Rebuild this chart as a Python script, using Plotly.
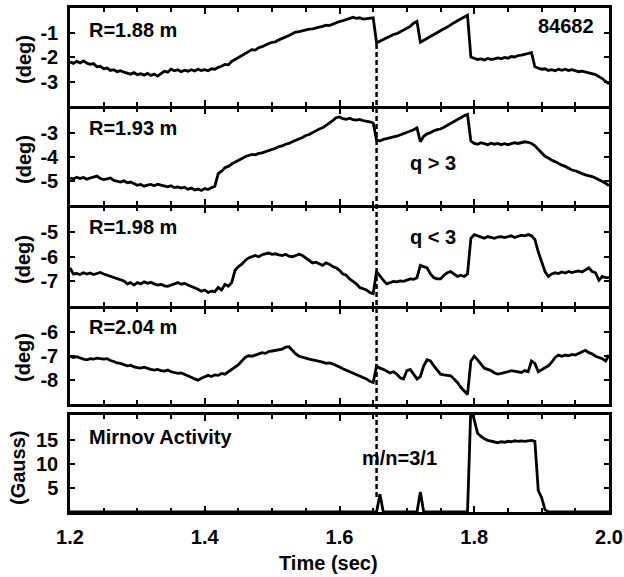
import numpy as np
import plotly.graph_objects as go

# ---------------- data ----------------
time_s = np.round(np.arange(1.200, 2.0001, 0.005), 3)

r188_deg = [
    -2.20, -2.26, -2.18, -2.24, -2.16, -2.25, -2.30, -2.27, -2.40, -2.38,
    -2.48, -2.45, -2.55, -2.52, -2.60, -2.56, -2.62, -2.66, -2.70, -2.64,
    -2.72, -2.68, -2.74, -2.67, -2.75, -2.70, -2.78, -2.68, -2.58, -2.62,
    -2.50, -2.56, -2.52, -2.60, -2.54, -2.58, -2.52, -2.57, -2.50, -2.55,
    -2.52, -2.56, -2.48, -2.50, -2.42, -2.38, -2.30, -2.32, -2.18, -2.10,
    -2.02, -1.96, -1.85, -1.80, -1.70, -1.72, -1.62, -1.58, -1.50, -1.45,
    -1.40, -1.38, -1.30, -1.25, -1.18, -1.12, -1.05, -0.98, -0.96, -0.92,
    -0.88, -0.86, -0.85, -0.80, -0.78, -0.75, -0.70, -0.72, -0.66, -0.62,
    -0.55, -0.52, -0.48, -0.44, -0.38, -0.42, -0.40, -0.45, -0.43, -0.41,
    -0.40, -1.42, -1.35, -1.28, -1.22, -1.15, -1.08, -1.05, -0.98, -0.92,
    -0.85, -0.75, -0.62, -0.55, -1.40, -1.32, -1.22, -1.15, -1.08, -1.00,
    -0.92, -0.85, -0.78, -0.68, -0.60, -0.52, -0.45, -0.38, -0.30, -2.00,
    -2.05, -2.10, -2.08, -2.12, -2.06, -2.10, -2.08, -2.04, -2.07, -2.02,
    -2.05, -1.98, -2.00, -1.94, -1.92, -1.88, -1.85, -1.82, -2.40, -2.46,
    -2.50, -2.48, -2.55, -2.52, -2.56, -2.50, -2.54, -2.50, -2.55, -2.52,
    -2.56, -2.60, -2.58, -2.62, -2.65, -2.70, -2.72, -2.80, -2.88, -3.00,
    -3.10,
]

r193_deg = [
    -4.88, -4.92, -4.85, -4.90, -4.86, -4.93, -4.88, -4.84, -4.80, -4.90,
    -4.95, -4.92, -4.88, -4.98, -5.02, -5.05, -5.00, -5.08, -5.05, -5.12,
    -5.18, -5.15, -5.22, -5.18, -5.15, -5.20, -5.14, -5.18, -5.22, -5.25,
    -5.20, -5.28, -5.25, -5.30, -5.26, -5.35, -5.30, -5.38, -5.34, -5.40,
    -5.32, -5.36, -5.28, -5.22, -4.70, -4.60, -4.45, -4.40, -4.30, -4.22,
    -4.15, -4.05, -4.00, -3.95, -3.90, -3.92, -3.86, -3.84, -3.80, -3.75,
    -3.72, -3.65, -3.58, -3.55, -3.48, -3.45, -3.38, -3.32, -3.28, -3.20,
    -3.12, -3.08, -3.00, -2.92, -2.85, -2.80, -2.70, -2.62, -2.50, -2.38,
    -2.35, -2.42, -2.45, -2.40, -2.46, -2.48, -2.45, -2.50, -2.52, -2.55,
    -2.60, -3.30, -3.35, -3.28, -3.25, -3.20, -3.18, -3.15, -3.10, -3.05,
    -3.00, -2.95, -2.88, -2.80, -3.38, -3.15, -3.05, -3.00, -2.92, -2.88,
    -2.85, -2.78, -2.70, -2.62, -2.55, -2.45, -2.38, -2.30, -2.25, -3.35,
    -3.45, -3.48, -3.42, -3.46, -3.50, -3.44, -3.48, -3.45, -3.50, -3.46,
    -3.50, -3.46, -3.42, -3.45, -3.40, -3.38, -3.40, -3.45, -3.55, -3.70,
    -3.85, -3.98, -4.05, -4.15, -4.20, -4.28, -4.35, -4.40, -4.48, -4.55,
    -4.58, -4.65, -4.70, -4.75, -4.78, -4.82, -4.88, -4.95, -5.00, -5.10,
    -5.20,
]

r198_deg = [
    -6.45, -6.70, -6.68, -6.72, -6.65, -6.70, -6.66, -6.72, -6.68, -6.64,
    -6.70, -6.75, -6.80, -6.85, -6.88, -6.92, -6.98, -7.10, -7.05, -7.15,
    -7.05, -7.10, -7.02, -7.08, -7.04, -7.10, -7.15, -7.12, -7.18, -7.20,
    -7.15, -7.10, -7.05, -7.12, -7.08, -7.15, -7.20, -7.28, -7.32, -7.40,
    -7.35, -7.45, -7.40, -7.42, -7.25, -7.35, -7.12, -7.20, -7.05, -6.55,
    -6.40, -6.30, -6.15, -6.05, -6.00, -5.95, -6.00, -5.92, -5.88, -5.85,
    -5.90, -5.88, -5.92, -5.95, -5.90, -5.98, -6.00, -5.94, -5.90, -5.95,
    -6.05, -6.15, -6.25, -6.22, -6.30, -6.35, -6.25, -6.30, -6.40, -6.45,
    -6.55, -6.70, -6.75, -6.90, -7.00, -7.10, -7.25, -7.30, -7.35, -7.45,
    -7.50, -6.60, -6.80, -6.95, -7.10, -7.05, -7.00, -7.02, -6.98, -7.00,
    -6.95, -6.90, -6.92, -6.85, -6.35, -6.40, -6.45, -6.70, -6.85, -6.90,
    -6.90, -6.75, -6.65, -6.60, -6.70, -6.80, -6.75, -6.80, -6.70, -5.25,
    -5.10, -5.15, -5.20, -5.25, -5.18, -5.22, -5.25, -5.20, -5.18, -5.22,
    -5.20, -5.15, -5.22, -5.18, -5.12, -5.15, -5.10, -5.15, -5.30, -5.80,
    -6.20, -6.60, -6.80, -6.70, -6.65, -6.68, -6.62, -6.66, -6.60, -6.64,
    -6.60, -6.58, -6.62, -6.55, -6.45, -6.60, -6.65, -6.95, -6.80, -6.85,
    -6.85,
]

r204_deg = [
    -7.00, -7.05, -7.02, -7.08, -7.12, -7.15, -7.10, -7.12, -7.08, -7.10,
    -7.12, -7.10, -7.18, -7.22, -7.28, -7.30, -7.35, -7.40, -7.38, -7.45,
    -7.48, -7.50, -7.46, -7.52, -7.55, -7.58, -7.55, -7.60, -7.62, -7.58,
    -7.65, -7.68, -7.72, -7.70, -7.75, -7.80, -7.88, -7.95, -8.00, -7.92,
    -7.85, -7.80, -7.85, -7.78, -7.80, -7.72, -7.75, -7.65, -7.55, -7.45,
    -7.35, -7.20, -7.05, -6.98, -7.00, -6.95, -6.90, -6.85, -6.88, -6.80,
    -6.78, -6.75, -6.72, -6.70, -6.62, -6.60, -6.75, -6.90, -7.00, -7.05,
    -7.10, -7.12, -7.15, -7.18, -7.20, -7.25, -7.30, -7.28, -7.32, -7.40,
    -7.45, -7.52, -7.58, -7.65, -7.72, -7.78, -7.85, -7.90, -7.95, -8.05,
    -8.10, -7.40, -7.50, -7.55, -7.62, -7.70, -7.65, -7.75, -7.90, -7.95,
    -7.60, -7.55, -7.75, -7.95, -7.85, -7.40, -7.15, -7.20, -7.40, -7.60,
    -7.75, -7.78, -7.80, -7.82, -7.95, -8.10, -8.30, -8.45, -8.60, -7.20,
    -7.00, -7.15, -7.35, -7.50, -7.55, -7.60, -7.70, -7.75, -7.72, -7.70,
    -7.65, -7.60, -7.62, -7.65, -7.68, -7.60, -7.65, -7.20, -7.30, -7.65,
    -7.55, -7.48, -7.40, -7.25, -7.05, -6.95, -7.00, -6.95, -6.98, -6.92,
    -6.95, -6.88, -6.80, -6.75, -6.85, -6.90, -7.00, -7.05, -7.10, -7.20,
    -6.95,
]

mirnov_gauss = (
    [0.0] * 92
    + [3.7, 0.0]
    + [0.0] * 10
    + [4.2, 0.0]
    + [0.0] * 13
    + [22.0, 19.0, 16.5, 15.8, 15.3, 15.0, 14.8, 14.6, 14.5, 14.7,
       14.6, 14.8, 14.7, 14.9, 14.8, 14.9, 14.8, 14.9, 15.0, 14.8,
       4.5, 3.0, 0.5]
    + [0.0] * 19
)

panel_labels = ["R=1.88 m", "R=1.93 m", "R=1.98 m", "R=2.04 m", "Mirnov Activity"]
y_ranges = [[-4, 0], [-6, -2], [-8, -4], [-9, -5], [0, 20.3]]
y_ticks = [[-1, -2, -3], [-3, -4, -5], [-5, -6, -7], [-6, -7, -8], [5, 10, 15]]
y_titles = ["(deg)", "(deg)", "(deg)", "(deg)", "(Gauss)"]
x_ticks = [1.2, 1.4, 1.6, 1.8, 2.0]
mode_time = 1.655
shot_label = "84682"

# ---------------- layout helpers ----------------
W, H = 624, 577
L, R, T, B = 70, 15, 8, 64
plot_h = H - T - B
LW = 2.5


def py(pix):
    return (H - B - pix) / plot_h


def px(pix):
    return (pix - L) / (W - L - R)


# panel pixel extents (top, bottom); axis lines are drawn outside the domain,
# so adjacent panels leave a gap of one line width for the lines to coincide
panel_px = [(8, 106), (106 + LW, 205), (205 + LW, 306), (306 + LW, 404), (415, 512)]
FONT = dict(family="Liberation Sans, Arial, sans-serif", size=20, color="black", weight="bold")

series = [r188_deg, r193_deg, r198_deg, r204_deg, mirnov_gauss]

fig = go.Figure()
for i, ys in enumerate(series):
    n = "" if i == 0 else str(i + 1)
    fig.add_trace(go.Scatter(
        x=time_s, y=ys, mode="lines",
        line=dict(color="black", width=2.8),
        xaxis="x" + n, yaxis="y" + n, showlegend=False,
    ))

layout = {}
for i in range(5):
    n = "" if i == 0 else str(i + 1)
    top, bot = panel_px[i]
    layout["xaxis" + n] = dict(
        domain=[0, 1], anchor="y" + n, range=[1.2, 2.0],
        tickvals=x_ticks, ticktext=[f"{v:.1f}" for v in x_ticks],
        ticks="inside", ticklen=6, tickwidth=2, tickcolor="black",
        minor=dict(dtick=0.05, tick0=1.2, ticks="inside", ticklen=4, tickwidth=1.5, tickcolor="black"),
        showticklabels=(i == 4), ticklabeloverflow="allow", automargin=False,
        showline=True, linewidth=LW, linecolor="black", mirror="ticks",
        showgrid=False, zeroline=False, tickfont=FONT, ticklabelstandoff=5,
        **({} if i == 0 else {"matches": "x"}),
    )
    layout["yaxis" + n] = dict(
        domain=[py(bot), py(top)], anchor="x" + n, range=y_ranges[i],
        tickvals=y_ticks[i], ticktext=[str(v) for v in y_ticks[i]],
        ticks="inside", ticklen=5, tickwidth=2, tickcolor="black", automargin=False,
        showline=True, linewidth=LW, linecolor="black", mirror="ticks",
        showgrid=False, zeroline=False, tickfont=FONT, ticklabelstandoff=5,
    )

fig.update_layout(
    width=W, height=H, margin=dict(l=L, r=R, t=T, b=B, autoexpand=False),
    paper_bgcolor="white", plot_bgcolor="white", font=FONT, **layout,
)

# panel labels
label_ypix = [30, 128, 227, 327, 437]
for i, lab in enumerate(panel_labels):
    fig.add_annotation(text=lab, x=px(87), y=py(label_ypix[i]), xref="paper", yref="paper",
                       xanchor="left", yanchor="middle", showarrow=False, font=FONT)

# y titles
ytitle_pix = [(24, 60), (24, 160), (23, 260), (23, 358), (18, 468)]
for (xp, ypix), t in zip(ytitle_pix, y_titles):
    fig.add_annotation(text=t, x=px(xp), y=py(ypix), xref="paper", yref="paper",
                       xanchor="center", yanchor="middle", textangle=-90, showarrow=False, font=FONT)

fig.add_annotation(text=shot_label, x=px(596), y=py(26), xref="paper", yref="paper",
                   xanchor="right", yanchor="middle", showarrow=False, font=FONT)
fig.add_annotation(text="q > 3", x=px(433), y=py(163), xref="paper", yref="paper",
                   xanchor="center", yanchor="middle", showarrow=False, font=FONT)
fig.add_annotation(text="q < 3", x=px(433), y=py(237), xref="paper", yref="paper",
                   xanchor="center", yanchor="middle", showarrow=False, font=FONT)
fig.add_annotation(text="m/n=3/1", x=px(399), y=py(458), xref="paper", yref="paper",
                   xanchor="center", yanchor="middle", showarrow=False, font=FONT)
fig.add_annotation(text="Time (sec)", x=px(328), y=py(563), xref="paper", yref="paper",
                   xanchor="center", yanchor="middle", showarrow=False, font=FONT)

# dashed marker line
fig.add_shape(type="line", xref="x", yref="paper", x0=mode_time, x1=mode_time,
              y0=py(497), y1=py(43), line=dict(color="black", width=2.5, dash="5px,3px"))

fig.write_html("out.html")
